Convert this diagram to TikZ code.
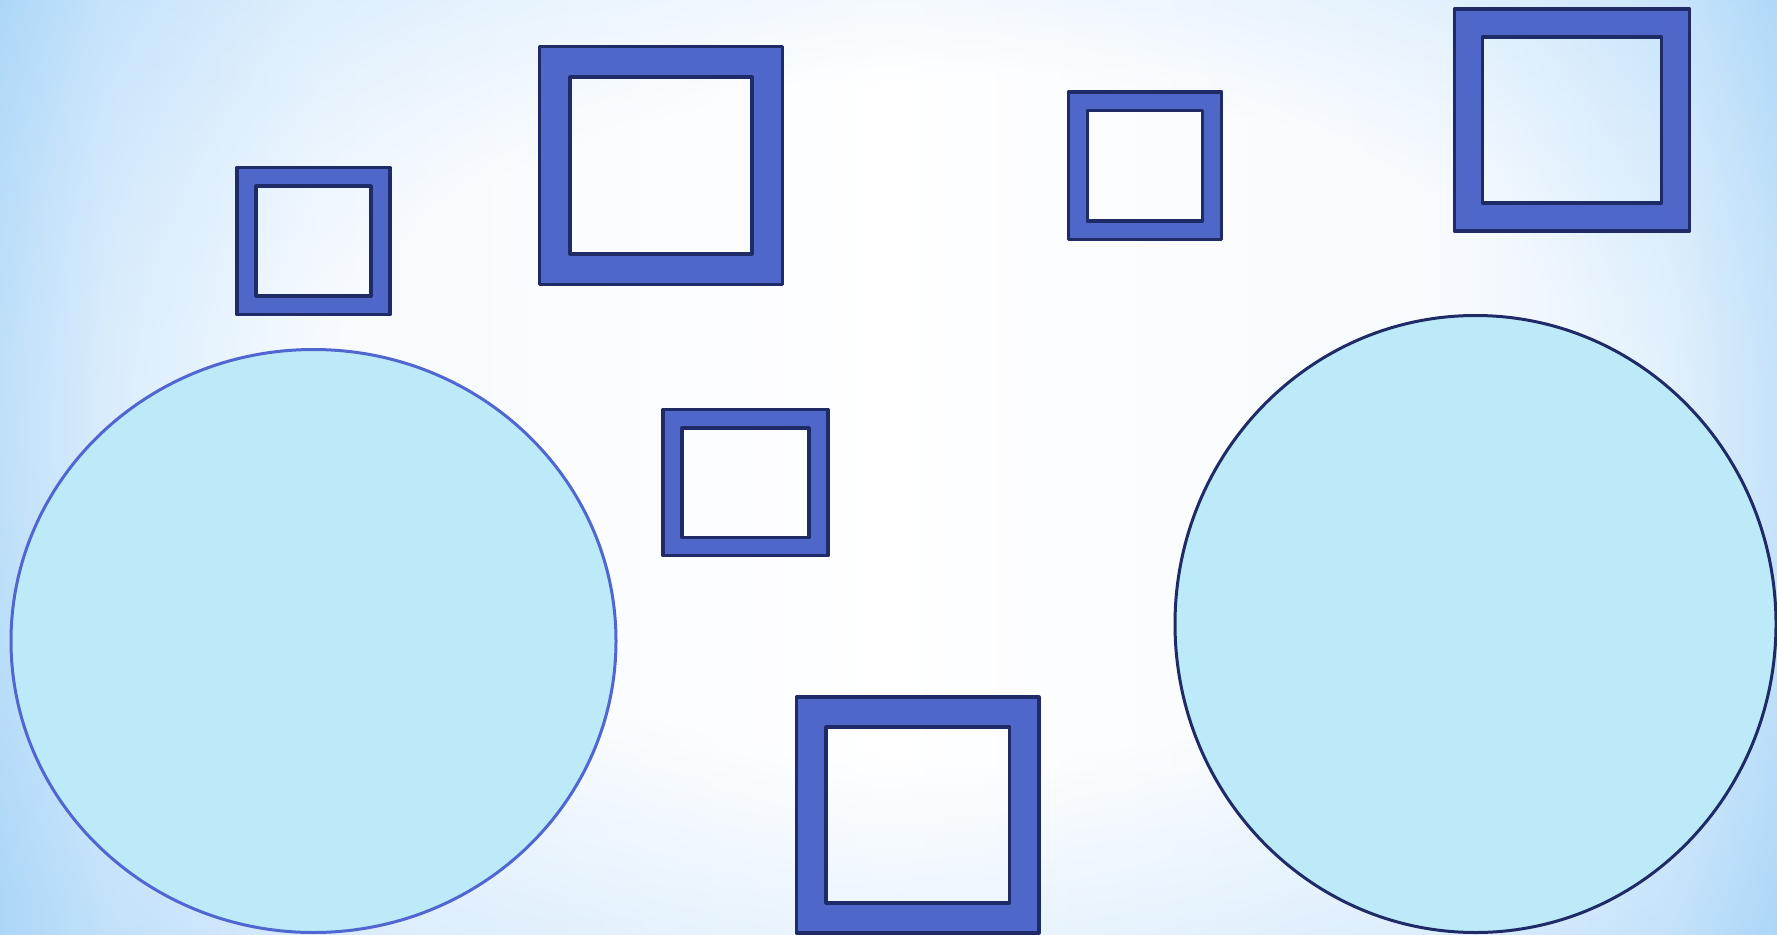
\documentclass[tikz,border=0pt]{standalone}
\usetikzlibrary{shapes.geometric}
\definecolor{frameblue}{HTML}{4F67C9}
\definecolor{navy}{HTML}{1F2B66}
\definecolor{cyanfill}{HTML}{BDEAF9}
\definecolor{edgeblue}{HTML}{5066D0}
\definecolor{bgblue}{HTML}{ADD7F8}
\definecolor{bgmid}{HTML}{D2E9FC}
\definecolor{bgpale}{HTML}{F0F7FE}
\pgfdeclarehorizontalshading{hbg}{100bp}{%
  color(0bp)=(bgblue); color(25bp)=(bgblue); color(28bp)=(bgmid); color(34bp)=(bgpale); color(50bp)=(white); color(66bp)=(bgpale); color(72bp)=(bgmid); color(75bp)=(bgblue); color(100bp)=(bgblue)}
\pgfdeclareradialshading{rbg}{\pgfpoint{3bp}{4bp}}{%
  color(0bp)=(white); color(18bp)=(white); color(27bp)=(bgmid); color(35bp)=(bgblue); color(50bp)=(bgblue)}
\tikzset{
  frame/.style={fill=frameblue, draw=navy, line width=3.2pt, even odd rule, line join=round},
  blob/.style={fill=cyanfill, line width=3pt},
}
\begin{document}
\begin{tikzpicture}[x=1pt,y=-1pt]
\useasboundingbox (0,0) rectangle (1777,934);
\clip (0,0) rectangle (1777,934);
\shade[shading=hbg] (0,0) rectangle (1777,934);
\shade[shading=rbg, opacity=0.45] (0,0) rectangle (1777,934);
% frames: outer rectangle with inner hole
\newcommand{\myframe}[8]{%
  \path[frame] (#1,#2) rectangle (#3,#4) (#5,#6) rectangle (#7,#8);}
\myframe{237}{167.5}{390}{314.5}{256}{186}{371}{296}
\myframe{539.5}{46.5}{782.5}{284.5}{570}{77}{752}{254}
\myframe{1068.5}{92}{1221.5}{239.5}{1087.5}{110.5}{1202.5}{221}
\myframe{1454.5}{9}{1689.5}{231}{1482.5}{37}{1661.5}{203}
\myframe{663}{409.5}{828}{555.5}{682}{428}{809}{537.5}
\myframe{796.5}{697}{1039}{933}{826}{727}{1009.5}{903}
% ellipses
\path[blob, draw=edgeblue] (313.5,641) ellipse [x radius=302.5, y radius=291.5];
\path[blob, draw=navy] (1475.5,624) ellipse [x radius=300.5, y radius=308.5];
\end{tikzpicture}
\end{document}
